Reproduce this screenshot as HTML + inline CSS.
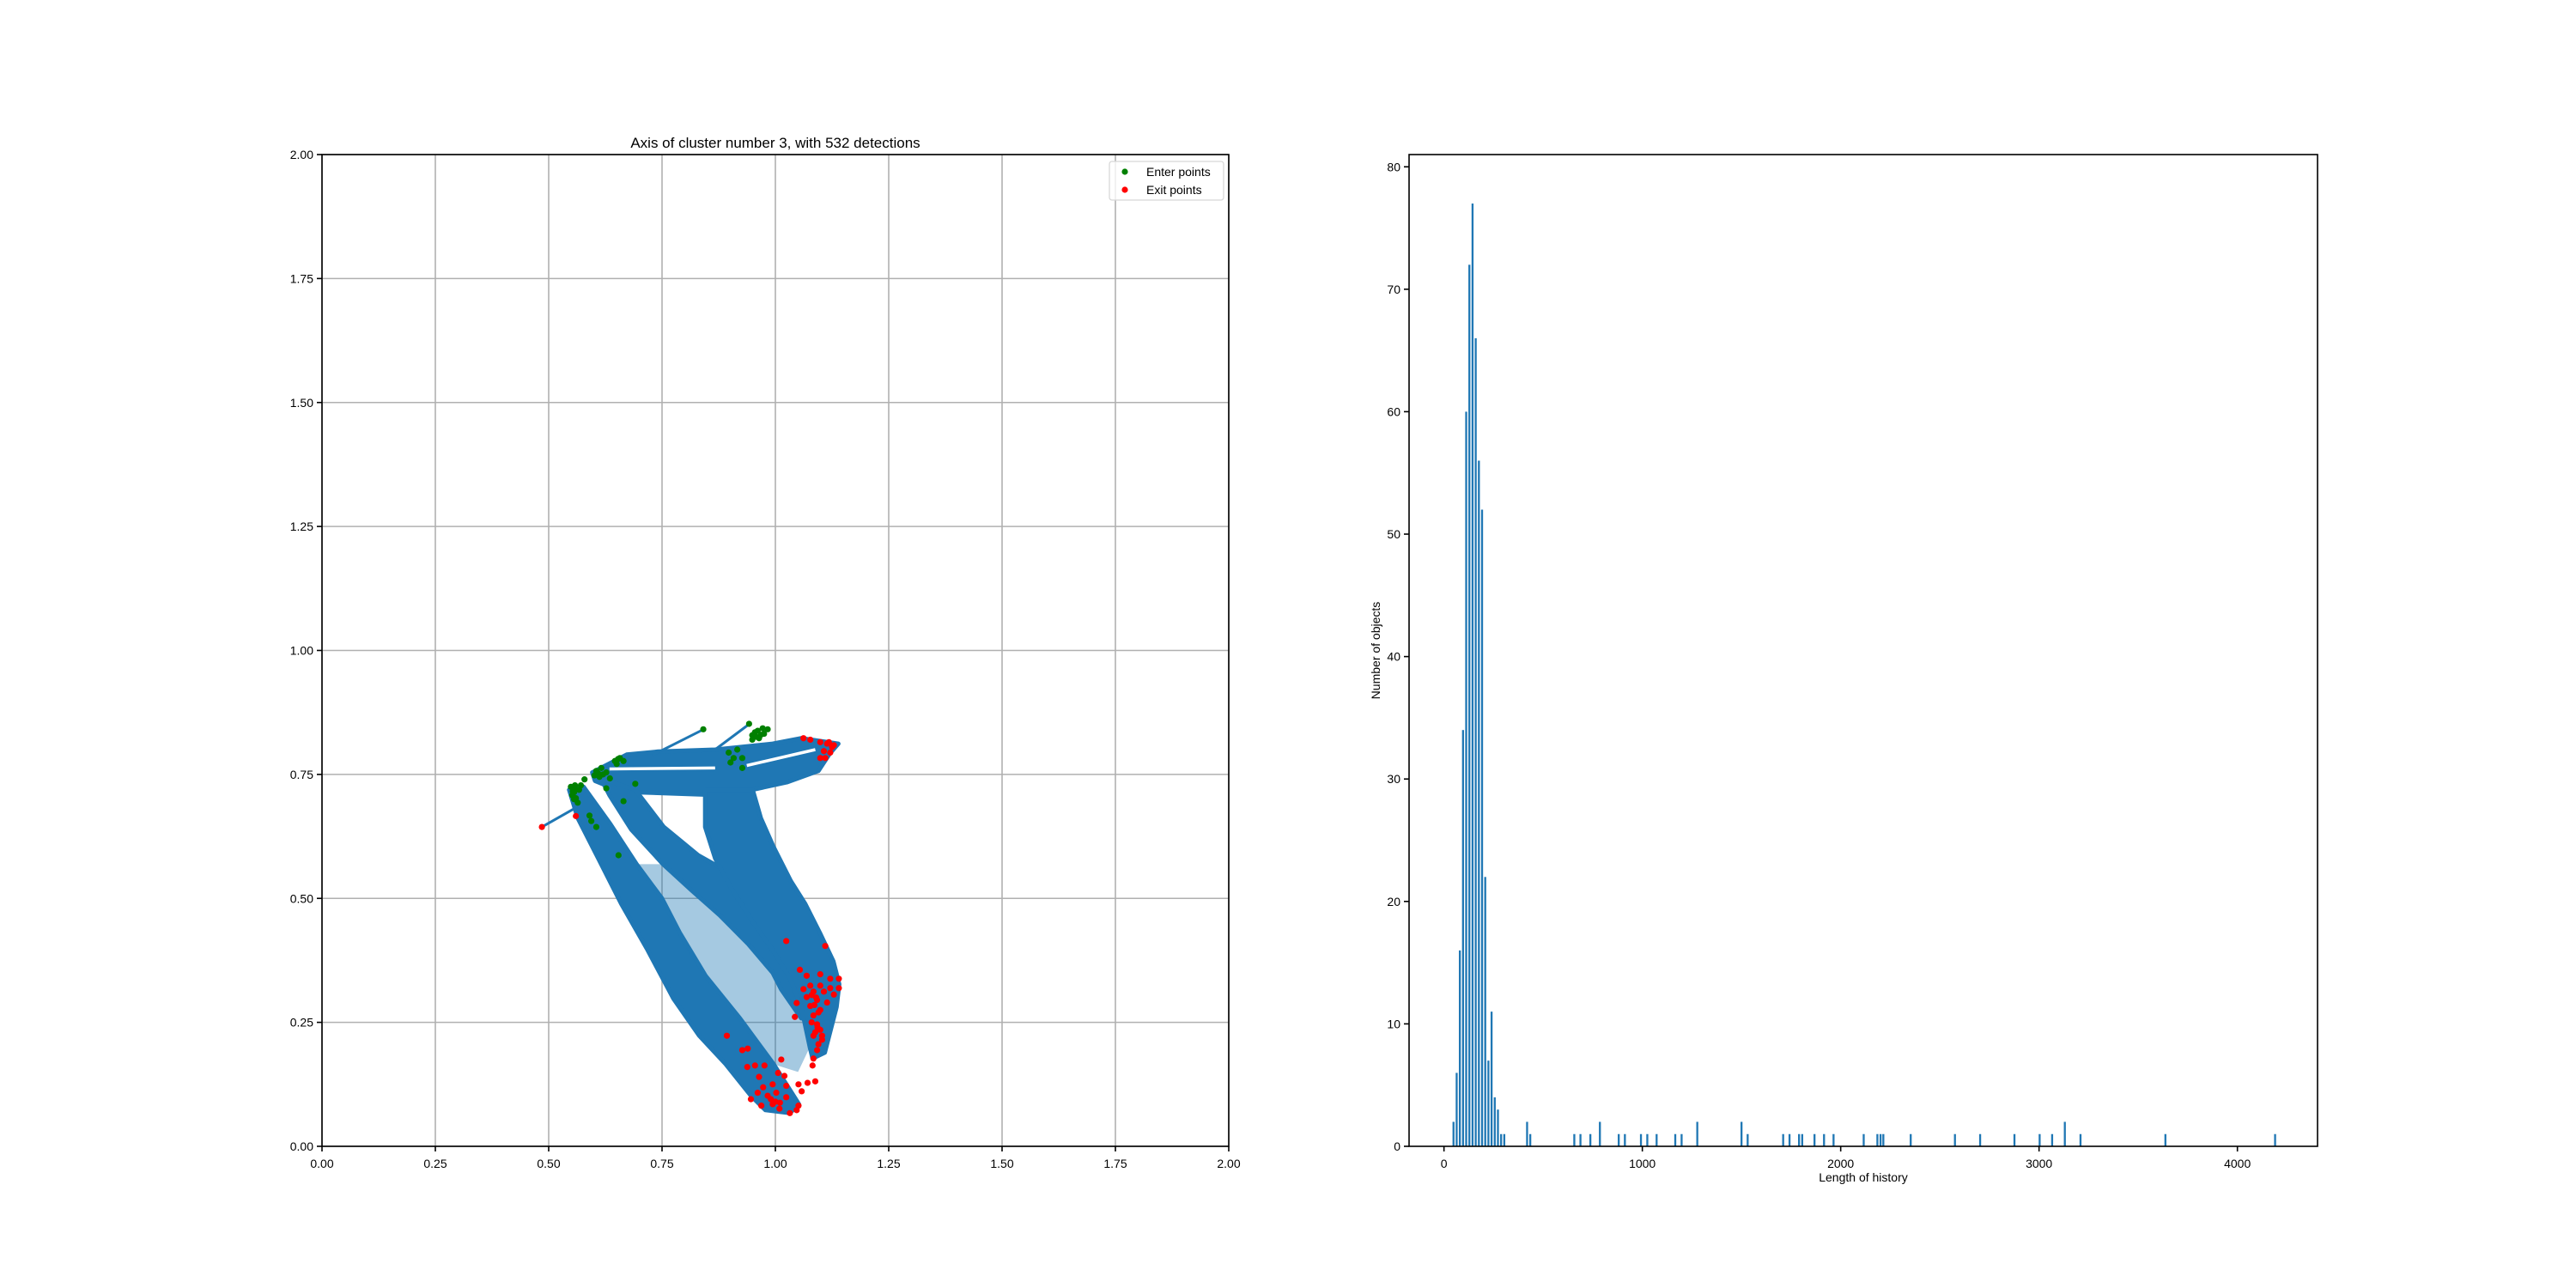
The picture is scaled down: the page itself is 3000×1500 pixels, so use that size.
<!DOCTYPE html>
<html><head><meta charset="utf-8"><style>
html,body{margin:0;padding:0;background:#fff;}
svg{display:block;font-family:"Liberation Sans","DejaVu Sans",sans-serif;}
</style></head><body>
<svg id="fig" width="3000" height="1500" viewBox="0 0 3000 1500">
<rect x="0" y="0" width="3000" height="1500" fill="#fff"/>
<g id="left"></g>
<g id="right"></g>
</svg>
<script>
// ===== Left scatter data (data units) =====
const scatterTicks = [0, 0.25, 0.5, 0.75, 1.0, 1.25, 1.5, 1.75, 2.0];
const bandHorizontal = [[0.596,0.754],[0.672,0.790],[0.741,0.796],[0.867,0.800],[0.994,0.812],[1.057,0.823],[1.139,0.812],[1.120,0.792],[1.095,0.757],[1.025,0.734],[0.949,0.719],[0.855,0.709],[0.697,0.714],[0.634,0.725],[0.602,0.737]];
const bandLeft = [[0.545,0.719],[0.564,0.662],[0.609,0.581],[0.660,0.489],[0.718,0.396],[0.775,0.298],[0.832,0.223],[0.890,0.166],[0.946,0.102],[0.978,0.073],[1.032,0.067],[1.052,0.085],[0.996,0.166],[0.922,0.258],[0.846,0.344],[0.789,0.431],[0.750,0.500],[0.694,0.569],[0.636,0.650],[0.577,0.725]];
const bandMiddle = [[0.615,0.742],[0.691,0.719],[0.754,0.644],[0.830,0.587],[0.910,0.546],[0.952,0.489],[0.997,0.431],[1.046,0.373],[1.084,0.316],[1.097,0.258],[1.057,0.258],[1.013,0.316],[0.994,0.350],[0.940,0.408],[0.877,0.466],[0.814,0.517],[0.752,0.569],[0.682,0.639],[0.634,0.708]];
const bandVertical = [[0.845,0.719],[0.950,0.719],[0.968,0.662],[0.996,0.604],[1.034,0.535],[1.066,0.489],[1.098,0.431],[1.128,0.373],[1.141,0.327],[1.135,0.281],[1.109,0.189],[1.082,0.177],[1.076,0.200],[1.057,0.281],[1.032,0.339],[0.994,0.396],[0.949,0.454],[0.905,0.517],[0.867,0.581],[0.845,0.644]];
const sparseRegion = [[0.691,0.569],[0.754,0.569],[0.817,0.517],[0.880,0.466],[0.943,0.408],[0.994,0.350],[1.057,0.258],[1.076,0.200],[1.050,0.150],[0.994,0.166],[0.918,0.258],[0.842,0.344],[0.785,0.431],[0.747,0.500]];
const trails = [[[0.485,0.644],[0.564,0.685]],[[0.729,0.789],[0.842,0.841]],[[0.867,0.800],[0.943,0.852]]];
const gaps = [[[0.634,0.761],[0.867,0.763]],[[0.937,0.768],[1.088,0.800]]];
const enterX = [0.549,0.556,0.560,0.552,0.567,0.564,0.571,0.605,0.616,0.627,0.612,0.635,0.601,0.646,0.657,0.665,0.650,0.949,0.961,0.972,0.983,0.964,0.949,0.942,0.916,0.897,0.908,0.927,0.901,0.927,0.841,0.590,0.594,0.605,0.654,0.665,0.691,0.579,0.627,0.556,0.560,0.975,0.955,0.553,0.558,0.620,0.609,0.653,0.968,0.957];
const enterY = [0.725,0.714,0.702,0.708,0.719,0.693,0.728,0.757,0.763,0.754,0.745,0.742,0.748,0.777,0.783,0.777,0.771,0.829,0.838,0.843,0.841,0.823,0.820,0.852,0.800,0.794,0.783,0.783,0.774,0.763,0.841,0.667,0.656,0.644,0.587,0.696,0.731,0.740,0.722,0.700,0.720,0.832,0.835,0.716,0.728,0.750,0.752,0.781,0.830,0.826];
const exitX = [0.485,0.560,1.062,1.077,1.099,1.114,1.129,1.107,1.121,1.099,1.110,1.024,1.110,1.054,1.069,1.099,1.121,1.140,1.077,1.099,1.121,1.140,1.062,1.084,1.107,1.129,1.069,1.092,1.114,1.047,1.077,1.099,1.043,1.084,1.092,1.099,1.084,1.103,1.095,1.092,1.084,1.082,0.893,0.927,0.939,0.938,0.955,1.013,0.976,0.964,1.006,1.020,0.973,0.994,1.024,0.961,0.983,1.002,1.024,0.969,0.994,1.009,1.032,1.047,1.051,0.946,1.051,1.071,1.088,1.058,1.090,1.095,1.080,1.086,1.093,1.103,1.088,1.080,1.000,0.990,1.010,1.118,1.125];
const exitY = [0.644,0.666,0.823,0.820,0.815,0.812,0.809,0.797,0.794,0.783,0.783,0.414,0.404,0.356,0.344,0.347,0.338,0.338,0.324,0.324,0.319,0.319,0.317,0.312,0.312,0.306,0.301,0.295,0.290,0.289,0.283,0.275,0.261,0.264,0.246,0.235,0.223,0.223,0.206,0.194,0.177,0.163,0.223,0.194,0.197,0.160,0.163,0.175,0.163,0.140,0.148,0.142,0.119,0.125,0.122,0.108,0.102,0.108,0.099,0.082,0.085,0.076,0.067,0.073,0.082,0.095,0.125,0.128,0.131,0.111,0.300,0.270,0.250,0.285,0.240,0.215,0.230,0.305,0.090,0.095,0.088,0.815,0.805];

// ===== Right histogram data =====
const histCenters = [48,64,80,96,112,128,144,160,176,192,208,224,240,256,272,288,304,419,435,657,688,738,786,881,912,993,1025,1072,1166,1198,1277,1500,1531,1710,1742,1790,1806,1868,1916,1964,2116,2185,2201,2215,2353,2576,2703,2876,3003,3066,3130,3209,3637,4190];
const histCounts = [2,6,16,34,60,72,77,66,56,52,22,7,11,4,3,1,1,2,1,1,1,1,2,1,1,1,1,1,1,1,2,2,1,1,1,1,1,1,1,1,1,1,1,1,1,1,1,1,1,1,2,1,1,1];
const histXTicks = [0,1000,2000,3000,4000];
const histYTicks = [0,10,20,30,40,50,60,70,80];

const NS = "http://www.w3.org/2000/svg";
function mk(tag, attrs, parent){ const e=document.createElementNS(NS,tag); for(const k in attrs) e.setAttribute(k,attrs[k]); parent.appendChild(e); return e; }

// ----- Left axes -----
const L = {x0:375, x1:1431, y0:1335, y1:180};
const lx = v => L.x0 + (v-0)/(2-0)*(L.x1-L.x0);
const ly = v => L.y0 - (v-0)/(2-0)*(L.y0-L.y1);
const left = document.getElementById('left');
scatterTicks.forEach(t=>{
  const g1 = mk('line',{x1:lx(t),x2:lx(t),y1:L.y1,y2:L.y0,stroke:'#b0b0b0','stroke-width':1.6},left);
  
  
  const g2 = mk('line',{x1:L.x0,x2:L.x1,y1:ly(t),y2:ly(t),stroke:'#b0b0b0','stroke-width':1.6},left);
  
  
});
const ptsStr = arr => arr.map(p=>lx(p[0]).toFixed(1)+','+ly(p[1]).toFixed(1)).join(' ');
const sp = mk('polygon',{points:ptsStr(sparseRegion),fill:'#1f77b4','fill-opacity':0.4},left);


[bandHorizontal,bandLeft,bandMiddle,bandVertical].forEach(b=>{
  const p = mk('polygon',{points:ptsStr(b),fill:'#1f77b4',stroke:'#1f77b4','stroke-width':5,'stroke-linejoin':'round'},left);
  
  
});
trails.forEach(t=>{
  const p = mk('polyline',{points:ptsStr(t),fill:'none',stroke:'#1f77b4','stroke-width':3},left);
  
  
});
gaps.forEach(t=>{
  const p = mk('polyline',{points:ptsStr(t),fill:'none',stroke:'#ffffff','stroke-width':3.5},left);
  
  
});
enterX.forEach((x,i)=>{
  const c = mk('circle',{cx:lx(x),cy:ly(enterY[i]),r:3.6,fill:'green'},left);
  
  
});
exitX.forEach((x,i)=>{
  const c = mk('circle',{cx:lx(x),cy:ly(exitY[i]),r:3.6,fill:'red'},left);
  
  
});
const lframe = mk('rect',{x:L.x0,y:L.y1,width:L.x1-L.x0,height:L.y0-L.y1,fill:'none',stroke:'#000','stroke-width':1.6},left);


scatterTicks.forEach(t=>{
  const lab = t.toFixed(2);
  mk('line',{x1:lx(t),x2:lx(t),y1:L.y0,y2:L.y0+6,stroke:'#000','stroke-width':1.6},left);
  const tx = mk('text',{x:lx(t),y:L.y0+25,'font-size':14,'text-anchor':'middle',fill:'#000'},left);
  tx.textContent = lab;
  
  
  mk('line',{x1:L.x0-6,x2:L.x0,y1:ly(t),y2:ly(t),stroke:'#000','stroke-width':1.6},left);
  const ty = mk('text',{x:L.x0-10,y:ly(t)+5,'font-size':14,'text-anchor':'end',fill:'#000'},left);
  ty.textContent = lab;
  
  
});
const title = mk('text',{x:(L.x0+L.x1)/2,y:172,'font-size':17,'text-anchor':'middle',fill:'#000'},left);
title.textContent = 'Axis of cluster number 3, with 532 detections';


// legend
const lg = mk('g',{},left);


mk('rect',{x:1292,y:188,width:133,height:45,rx:3,fill:'#fff','fill-opacity':0.8,stroke:'#d8d8d8','stroke-width':1.3},lg);
mk('circle',{cx:1310,cy:200,r:3.6,fill:'green'},lg);
mk('circle',{cx:1310,cy:221,r:3.6,fill:'red'},lg);
const le1 = mk('text',{x:1335,y:205,'font-size':14,fill:'#000'},lg); le1.textContent='Enter points';


const le2 = mk('text',{x:1335,y:226,'font-size':14,fill:'#000'},lg); le2.textContent='Exit points';



// ----- Right histogram -----
const R = {x0:1641, x1:2699, y0:1335, y1:180, dmin:-176, dmax:4404, vmax:81.0};
const rx = v => R.x0 + (v-R.dmin)/(R.dmax-R.dmin)*(R.x1-R.x0);
const ry = v => R.y0 - v/R.vmax*(R.y0-R.y1);
const right = document.getElementById('right');
const barW = 10;
histCenters.forEach((c,i)=>{
  const x = rx(c-barW/2), w = rx(c+barW/2)-x;
  const b = mk('rect',{x:x,y:ry(histCounts[i]),width:w,height:R.y0-ry(histCounts[i]),fill:'#1f77b4'},right);
  
  
});
const rframe = mk('rect',{x:R.x0,y:R.y1,width:R.x1-R.x0,height:R.y0-R.y1,fill:'none',stroke:'#000','stroke-width':1.6},right);


histXTicks.forEach(t=>{
  mk('line',{x1:rx(t),x2:rx(t),y1:R.y0,y2:R.y0+6,stroke:'#000','stroke-width':1.6},right);
  const tx = mk('text',{x:rx(t),y:R.y0+25,'font-size':14,'text-anchor':'middle',fill:'#000'},right);
  tx.textContent = String(t);
  
  
});
histYTicks.forEach(t=>{
  mk('line',{x1:R.x0-6,x2:R.x0,y1:ry(t),y2:ry(t),stroke:'#000','stroke-width':1.6},right);
  const ty = mk('text',{x:R.x0-10,y:ry(t)+5,'font-size':14,'text-anchor':'end',fill:'#000'},right);
  ty.textContent = String(t);
  
  
});
const xl = mk('text',{x:(R.x0+R.x1)/2,y:1376,'font-size':14,'text-anchor':'middle',fill:'#000'},right);
xl.textContent='Length of history';


const yl = mk('text',{x:1607,y:(R.y0+R.y1)/2,'font-size':14,'text-anchor':'middle',fill:'#000',transform:'rotate(-90 1607 '+((R.y0+R.y1)/2)+')'},right);
yl.textContent='Number of objects';


</script>
</body></html>
